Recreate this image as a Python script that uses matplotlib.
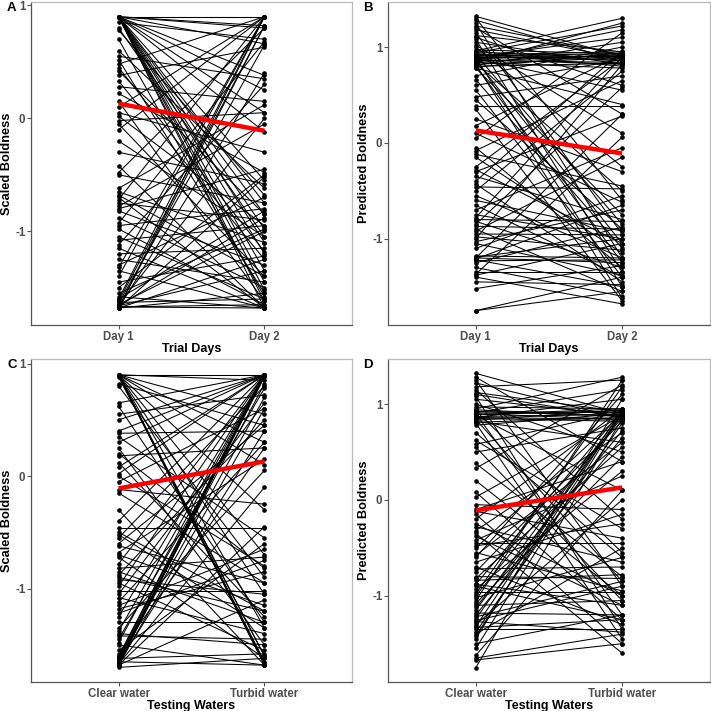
import matplotlib
matplotlib.use("Agg")
import matplotlib.pyplot as plt
import numpy as np

plt.rcParams['font.family'] = ['Liberation Sans', 'DejaVu Sans']

# panel A: scaled boldness, day 1 vs day 2 (one pair per fish)
a_day1 = [0.90, 0.90, 0.90, 0.90, 0.90, 0.90, 0.90, 0.90, 0.90, 0.90,
          0.90, 0.90, 0.90, 0.90, 0.90, 0.90, 0.85, 0.80, 0.78, 0.55,
          0.52, 0.48, 0.42, 0.38, 0.33, 0.28, 0.22, 0.15, 0.10, 0.05,
          0.02, -0.02, -0.05, -0.10, -0.30, -0.42, -0.48, -0.50, -0.62, -0.65,
          -0.70, -0.72, -0.75, -0.80, -0.82, -0.88, -0.93, -0.95, -1.05, -1.08,
          -1.12, -1.20, -1.25, -1.30, -1.35, -1.40, -1.45, -1.50, -1.58, -1.60,
          -1.62, -1.63, -1.65, -1.65, -1.66, -1.67, -1.67, -1.68, -1.68, -1.68,
          -1.68, -1.68, -1.60, -0.78, 0.90, 0.90, -0.20, -1.15, 0.60, -1.55,
          0.90, 0.90, -1.68, -1.64, -0.68, -0.98, 0.70, -1.66, 0.45, -1.32]
a_day2 = [0.90, 0.90, 0.82, 0.80, 0.66, 0.38, 0.25, -0.12, -0.55, -0.75,
          -0.98, -1.20, -1.45, -1.62, -1.68, -1.35, 0.70, -1.05, -0.68, 0.35,
          -1.55, 0.90, -0.85, 0.63, -1.25, 0.15, -0.48, -1.62, 0.90, -0.30,
          -0.95, 0.05, -1.40, 0.90, -0.58, -1.68, 0.80, -0.75, 0.12, -1.10,
          -1.68, 0.90, -0.90, -0.45, -1.30, -1.50, 0.68, -0.80, -1.60, -0.95,
          0.30, -1.15, -1.45, -0.70, -1.68, 0.90, -1.22, -0.50, -1.68, 0.90,
          0.82, -1.60, 0.00, -1.00, -1.35, -1.68, -1.65, 0.90, 0.40, -0.52,
          -1.25, -1.55, -0.82, -0.05, 0.05, -0.85, -1.05, -1.68, -0.62, -0.98,
          -1.52, -1.10, 0.82, 0.65, -1.40, -1.65, -1.58, -0.88, -1.18, 0.90]

# panel B: predicted boldness, day 1 vs day 2
b_day1 = [1.32, 1.30, 1.28, 1.25, 1.22, 1.20, 1.18, 1.15, 1.12, 1.10,
          1.08, 1.05, 1.02, 0.97, 0.96, 0.95, 0.94, 0.93, 0.92, 0.92,
          0.91, 0.90, 0.90, 0.89, 0.88, 0.88, 0.87, 0.86, 0.86, 0.85,
          0.84, 0.84, 0.83, 0.82, 0.82, 0.81, 0.80, 0.80, 0.79, 0.78,
          0.78, 0.70, 0.66, 0.60, 0.55, 0.48, 0.45, 0.38, 0.35, 0.18,
          0.10, 0.05, -0.05, -0.08, -0.12, -0.25, -0.28, -0.30, -0.35, -0.40,
          -0.43, -0.46, -0.50, -0.55, -0.70, -0.75, -0.78, -0.80, -0.82, -0.85,
          -0.87, -0.90, -0.92, -0.95, -0.98, -1.00, -1.03, -1.05, -1.18, -1.19,
          -1.20, -1.20, -1.21, -1.22, -1.23, -1.25, -1.30, -1.35, -1.37, -1.38,
          -1.40, -1.45, -1.52, -1.75, -1.75, 0.93, 0.91, 0.89, 0.87, -0.60,
          0.25, -0.15, 1.00, -1.10, -0.65]
b_day2 = [0.90, -0.60, 0.85, -1.20, 0.92, 0.30, 0.88, -0.95, 0.95, 0.60,
          -1.35, 0.82, 0.10, 0.93, 1.30, 0.88, 1.22, 0.80, 0.95, -0.85,
          0.90, 1.10, 0.86, -1.50, 0.91, 0.55, 1.18, 0.84, -1.05, 0.92,
          1.25, 0.78, -0.50, 0.89, -1.62, 1.05, 0.83, -1.25, 0.94, 0.40,
          -0.75, 1.00, -1.10, 0.87, -1.40, 0.70, -0.90, 0.38, -1.65, 0.92,
          -0.62, 1.15, -1.30, 0.65, -0.45, 0.88, -1.05, 0.28, -0.80, 0.96,
          -1.45, -0.48, 0.75, -1.20, -0.05, -1.00, 0.90, -0.82, -1.30, 0.58,
          -0.90, -1.55, -0.15, -0.96, -1.12, 0.82, -0.70, -1.38, -1.20, -1.00,
          -1.25, 0.30, -0.65, -1.50, -1.22, -0.88, -1.60, -1.35, 0.06, -1.05,
          -1.68, -1.48, -1.28, -1.40, -1.55, 0.86, 0.93, 0.90, 0.82, -0.92,
          -0.30, -1.15, -0.25, -0.55, -1.40]

# panel C: scaled boldness, clear vs turbid water
c_clear = [0.90, 0.90, 0.90, 0.90, 0.90, 0.90, 0.90, 0.90, 0.90, 0.90,
           0.90, 0.90, 0.90, 0.82, 0.80, 0.65, 0.62, 0.55, 0.40, 0.38,
           0.35, 0.30, 0.25, 0.18, 0.08, 0.02, 0.00, -0.05, -0.12, -0.40,
           -0.46, -0.50, -0.55, -0.62, -0.68, -0.72, -0.78, -0.82, -0.88, -0.92,
           -0.98, -1.02, -1.08, -1.12, -1.18, -1.25, -1.30, -1.35, -1.40, -1.42,
           -1.48, -1.55, -1.60, -1.62, -1.63, -1.64, -1.65, -1.66, -1.67, -1.68,
           -1.68, -1.68, -1.68, -1.68, -1.65, -1.70, -1.62, -1.58, -0.30, 0.12,
           -0.95, -1.22, -0.60, -1.38, 0.50, -0.15, -0.85, -1.05, 0.90, -1.50,
           -1.66, -1.61, 0.90, 0.88, -0.70, -1.15, -0.52, -1.45, 0.20, -0.90]
c_turbid = [0.90, 0.90, 0.85, 0.55, 0.10, -0.30, -0.70, -1.05, -1.35, -1.60,
            -1.65, -1.68, -1.68, 0.45, -0.90, 0.90, -1.30, 0.72, 0.90, 0.40,
            -0.55, 0.90, -1.50, 0.25, 0.90, 0.90, -0.80, 0.60, -0.25, 0.90,
            -0.46, -1.20, 0.80, -0.95, 0.15, -1.62, 0.90, -0.72, 0.50, -1.05,
            0.90, -1.02, -1.40, 0.30, -0.85, 0.90, -1.30, 0.05, -1.50, -1.45,
            0.90, -0.60, 0.90, 0.90, 0.82, 0.70, 0.90, 0.40, -0.10, 0.90,
            0.90, 0.60, -0.45, -1.10, -1.68, -1.62, -1.58, 0.25, -1.68, -1.25,
            -1.55, -0.75, 0.45, 0.90, 0.90, -0.95, -1.30, 0.65, 0.30, -1.68,
            0.88, 0.90, -1.66, -1.60, -1.15, -0.65, -1.35, 0.78, -0.82, -1.20]

# panel D: predicted boldness, clear vs turbid water
d_clear = [1.32, 1.25, 1.22, 1.18, 1.15, 1.12, 1.08, 1.05, 1.00, 0.97,
           0.95, 0.94, 0.93, 0.92, 0.91, 0.90, 0.90, 0.89, 0.88, 0.87,
           0.86, 0.85, 0.84, 0.83, 0.82, 0.81, 0.80, 0.78, 0.62, 0.58,
           0.55, 0.50, 0.38, 0.33, 0.08, 0.03, -0.05, -0.10, -0.15, -0.20,
           -0.28, -0.32, -0.38, -0.42, -0.45, -0.50, -0.55, -0.60, -0.65, -0.70,
           -0.75, -0.80, -0.82, -0.84, -0.88, -0.90, -0.93, -0.96, -1.00, -1.02,
           -1.05, -1.10, -1.15, -1.18, -1.20, -1.22, -1.24, -1.27, -1.30, -1.32,
           -1.35, -1.38, -1.40, -1.45, -1.50, -1.55, -1.65, -1.67, -1.75, -1.62,
           -0.35, 1.28, -0.98, -0.72, -1.12, 0.92, 0.89, 0.86, -0.25, -0.88,
           -1.26, 0.70, -0.58, -0.12, -1.33, -1.08, 0.20, -0.48, -1.42, 1.10]
d_turbid = [0.90, -0.90, 0.85, 1.25, -0.20, 0.92, -1.35, 0.88, 0.50, 0.95,
            1.28, 0.87, -0.55, 0.91, 1.15, 0.84, -1.20, 0.93, 0.10, 0.89,
            1.05, 0.82, -0.85, 0.94, 0.60, 0.86, -1.45, 0.90, -0.30, 0.92,
            -1.05, 0.75, -0.80, 1.20, -1.25, 0.88, -0.10, 0.40, -1.50, 0.95,
            -0.65, 0.70, -1.10, 0.25, -0.45, 0.90, -0.95, 1.10, -0.15, -1.30,
            0.82, -0.82, 0.55, -0.78, 0.93, -1.25, 0.30, -0.96, 0.86, -0.60,
            1.25, -1.05, 0.92, -1.20, 0.65, -0.85, 0.89, -1.38, 0.00, 0.94,
            -1.35, 0.80, -0.50, 1.05, -1.20, 0.91, -1.40, -1.50, 0.85, 0.10,
            -1.60, 0.40, 1.18, -0.70, 0.72, 0.88, 0.95, 0.84, -1.00, -1.10,
            -0.90, -0.60, 0.60, -0.40, -1.25, 0.45, -1.00, -0.25, 0.92, 0.86]

# red lines (group means)
mean_a = [0.13, -0.11]
mean_b = [0.13, -0.11]
mean_c = [-0.11, 0.13]
mean_d = [-0.11, 0.13]

day_labels = ['Day 1', 'Day 2']
water_labels = ['Clear water', 'Turbid water']

fig = plt.figure(figsize=(7.11, 7.11), dpi=100)
W = 711.0


def make_ax(left, top, right, bottom):
    return fig.add_axes([left / W, 1 - bottom / W, (right - left) / W, (bottom - top) / W])


panels = [
    (make_ax(31, 2, 352, 325), a_day1, a_day2, mean_a, day_labels, 'Trial Days', 'Scaled Boldness', 'A', (-1.83, 1.03)),
    (make_ax(388, 2, 710, 325), b_day1, b_day2, mean_b, day_labels, 'Trial Days', 'Predicted Boldness', 'B', (-1.90, 1.47)),
    (make_ax(31, 359, 352, 682), c_clear, c_turbid, mean_c, water_labels, 'Testing Waters', 'Scaled Boldness', 'C', (-1.83, 1.04)),
    (make_ax(388, 359, 710, 682), d_clear, d_turbid, mean_d, water_labels, 'Testing Waters', 'Predicted Boldness', 'D', (-1.90, 1.47)),
]

for ax, y1, y2, mean, xlabs, xtitle, ytitle, letter, ylim in panels:
    for v1, v2 in zip(y1, y2):
        ax.plot([1, 2], [v1, v2], color='black', lw=0.75, marker='o', markersize=2.3, zorder=2)
    ax.plot([1, 2], mean, color='red', lw=3.2, solid_capstyle='butt', zorder=3)
    ax.set_xlim(0.4, 2.6)
    ax.set_ylim(*ylim)
    ax.set_xticks([1, 2])
    ax.set_xticklabels(xlabs)
    ax.set_yticks([-1, 0, 1])
    ax.set_yticklabels(['-1', '0', '1'])
    ax.tick_params(labelsize=8.3, colors='#555555', length=3, width=0.8, pad=1)
    for t in ax.get_xticklabels() + ax.get_yticklabels():
        t.set_fontweight('bold')
        t.set_color('#4D4D4D')
    ax.set_xlabel(xtitle, fontsize=9, fontweight='bold', labelpad=0)
    ax.set_ylabel(ytitle, fontsize=9.2, fontweight='bold', labelpad=1.5)
    ax.spines['left'].set_color('#555555')
    ax.spines['bottom'].set_color('#555555')
    ax.spines['top'].set_color('#BBBBBB')
    ax.spines['right'].set_color('#BBBBBB')
    for s in ax.spines.values():
        s.set_linewidth(0.9)

fig.text(7 / W, 1 - 8 / W, 'A', fontsize=9.5, fontweight='bold', va='center', ha='left')
fig.text(363 / W, 1 - 8 / W, 'B', fontsize=9.5, fontweight='bold', va='center', ha='left')
fig.text(7 / W, 1 - 365 / W, 'C', fontsize=9.5, fontweight='bold', va='center', ha='left')
fig.text(363 / W, 1 - 365 / W, 'D', fontsize=9.5, fontweight='bold', va='center', ha='left')

fig.savefig('out.png', dpi=100)
